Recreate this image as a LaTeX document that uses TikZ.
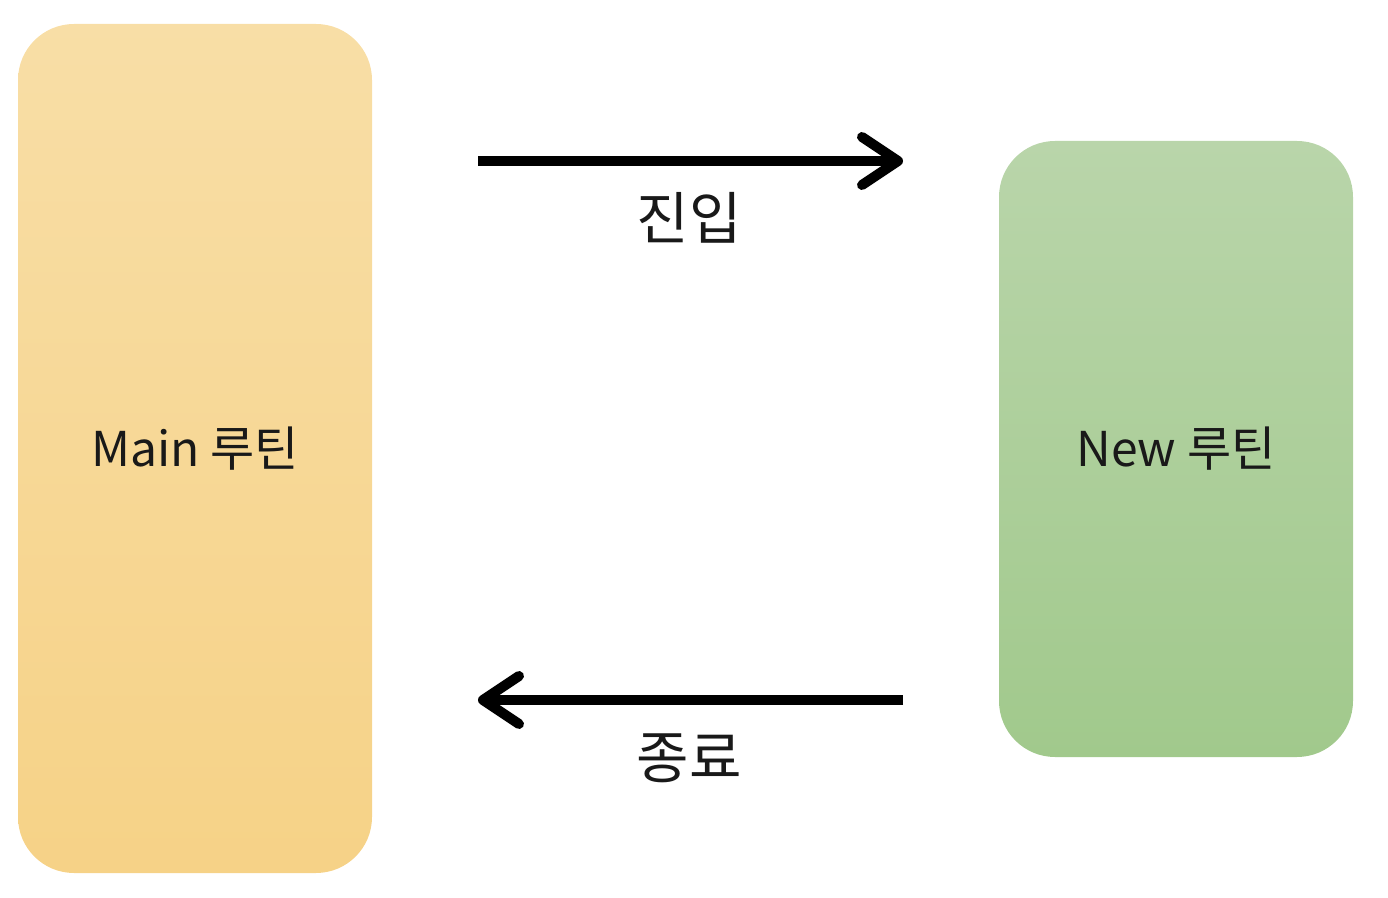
\documentclass[tikz,border=0pt]{standalone}
\usepackage{fontspec}
\setmainfont{Noto Sans CJK KR}
\usetikzlibrary{arrows.meta}
\definecolor{mainTop}{HTML}{F8DEA6}
\definecolor{mainBot}{HTML}{F6D287}
\definecolor{newTop}{HTML}{B9D5AA}
\definecolor{newBot}{HTML}{A1C98C}
\tikzset{
  routine/.style={rounded corners=28pt, minimum width=177pt, inner sep=0pt, font=\fontsize{24}{27}\selectfont, text=black!90},
  flow/.style={line width=5pt, -{Straight Barb[length=18pt, width=24pt, round]}},
  flowlabel/.style={font=\fontsize{28.5}{31}\selectfont, text=black!90}
}
\begin{document}
\begin{tikzpicture}[x=0.5pt, y=-0.5pt]
\useasboundingbox (0,0) rectangle (1388,898);
\node[routine, minimum height=424.5pt, top color=mainTop, bottom color=mainBot] (main) at (195,448.5) {Main 루틴};
\node[routine, minimum height=308pt, top color=newTop, bottom color=newBot] (new) at (1176,449) {New 루틴};
\coordinate (a1) at (478,161);
\coordinate (a2) at (903,161);
\coordinate (b1) at (903,700);
\coordinate (b2) at (478,700);
\draw[flow] (a1) -- (a2);
\draw[flow] (b1) -- (b2);
\node[flowlabel] (enter) at (689,218) {진입};
\node[flowlabel] (exit) at (689,758) {종료};
\end{tikzpicture}
\end{document}
